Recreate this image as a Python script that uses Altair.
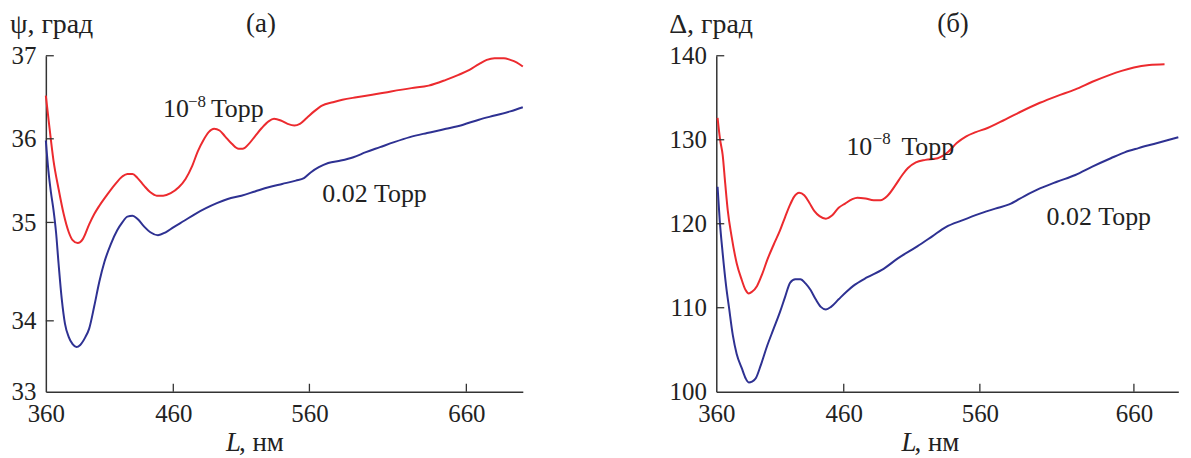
import altair as alt
import pandas as pd

FONT = "Liberation Serif"
RED = "#ec2a2e"
BLUE = "#2e3192"
INK = "#222222"

# ---------------- panel (а): psi, degrees ----------------
psi_vac_L = [360, 362, 366, 370, 374, 378, 381, 385, 389, 394, 398, 402, 408, 414, 420, 424,
             428, 432, 437, 442, 447, 452, 458, 464, 469, 474, 478, 482, 486, 490, 494, 498,
             503, 508, 511, 515, 520, 525, 530, 534, 539, 544, 549, 553, 558, 563, 568, 575,
             581, 590, 600, 612, 625, 636, 647, 655, 662, 668, 673, 678, 684, 688, 692, 696]
psi_vac = [36.52, 36.25, 35.74, 35.40, 35.10, 34.90, 34.82, 34.79, 34.83, 34.98, 35.10, 35.20,
           35.33, 35.45, 35.55, 35.58, 35.58, 35.53, 35.44, 35.36, 35.32, 35.32, 35.35, 35.42,
           35.52, 35.68, 35.85, 35.98, 36.08, 36.12, 36.10, 36.03, 35.94, 35.88, 35.88, 35.93,
           36.03, 36.13, 36.21, 36.24, 36.22, 36.18, 36.16, 36.18, 36.25, 36.33, 36.40, 36.44,
           36.47, 36.50, 36.53, 36.57, 36.61, 36.64, 36.71, 36.77, 36.83, 36.90, 36.95, 36.97,
           36.97, 36.95, 36.92, 36.87]

psi_gas_L = [360, 362, 364, 366, 368, 370, 372.5, 375, 378, 381, 384, 387, 391, 394, 398, 402,
             406, 411, 416, 420, 424, 428, 432, 437, 442, 448, 454, 460, 468, 476, 484, 492,
             500, 510, 520, 530, 540, 550, 556, 561, 566, 572, 580, 588, 596, 605, 614, 624,
             635, 647, 658, 668, 678, 688, 696]
psi_gas = [35.98, 35.62, 35.36, 35.15, 34.90, 34.58, 34.22, 33.96, 33.77, 33.67, 33.63, 33.66,
           33.77, 33.89, 34.15, 34.40, 34.60, 34.78, 34.92, 35.00, 35.07, 35.08, 35.04, 34.96,
           34.90, 34.87, 34.90, 34.95, 35.02, 35.10, 35.17, 35.23, 35.28, 35.32, 35.37, 35.42,
           35.46, 35.50, 35.53, 35.60, 35.66, 35.71, 35.74, 35.78, 35.84, 35.90, 35.96, 36.02,
           36.07, 36.12, 36.17, 36.23, 36.28, 36.33, 36.38]

# ---------------- panel (б): Delta, degrees ----------------
delta_vac_L = [361, 363, 365, 367, 369, 372, 376, 380, 383, 385.5, 388, 392, 396, 400, 405, 410,
               414, 418, 421, 425, 429, 433, 437, 441, 446, 451, 456, 461, 466, 470, 476, 482,
               487, 492, 498, 503, 507, 513, 520, 529, 533, 537, 543, 550, 557, 565, 572, 585,
               599, 610, 622, 633, 644, 652, 660, 670, 680]
delta_vac = [132.6, 130.0, 128.2, 124.8, 121.6, 118.5, 115.3, 113.3, 112.1, 111.7, 111.9, 112.6,
             114.0, 115.7, 117.5, 119.2, 120.8, 122.3, 123.2, 123.7, 123.4, 122.5, 121.5, 120.9,
             120.6, 121.0, 121.9, 122.4, 122.9, 123.1, 123.0, 122.8, 122.8, 123.3, 124.6, 125.8,
             126.6, 127.3, 127.6, 127.8, 128.1, 128.6, 129.6, 130.4, 130.9, 131.4, 132.0, 133.2,
             134.4, 135.2, 136.0, 136.9, 137.7, 138.2, 138.6, 138.9, 139.0]

delta_gas_L = [361, 362.7, 365, 367.7, 370, 373, 376, 380, 383, 385.5, 388, 391, 395, 400, 405,
               410, 414, 418, 422, 426, 430, 434, 438, 442, 446, 450, 456, 462, 467, 477, 488,
               500, 514, 525, 535, 547, 560, 570, 579, 589, 599, 610, 622, 633, 645, 654, 663,
               673, 683, 689]
delta_gas = [124.4, 120.4, 116.5, 112.6, 110.0, 106.7, 104.5, 102.8, 101.6, 101.1, 101.2, 101.6,
             103.2, 105.5, 107.5, 109.5, 111.3, 113.0, 113.4, 113.4, 112.9, 112.1, 111.0, 110.1,
             109.8, 110.1, 111.0, 111.9, 112.6, 113.6, 114.5, 115.9, 117.3, 118.5, 119.6, 120.4,
             121.2, 121.8, 122.3, 123.3, 124.2, 125.0, 125.8, 126.8, 127.8, 128.5, 129.0, 129.5,
             130.0, 130.3]

x_ticks = [360, 460, 560, 660]
psi_ticks = [33, 34, 35, 36, 37]
delta_ticks = [100, 110, 120, 130, 140]

series_names = ["10^-8 Торр", "0.02 Торр"]

# texts
psi_title = "ψ, град"
delta_title = "Δ, град"
panel_a = "(а)"
panel_b = "(б)"
lab_ten = "10"
lab_exp = "−8"
lab_torr = "Торр"
lab_gas = "0.02 Торр"
lab_L = "L"
lab_unit = ", нм"

H = 337.4
W1 = 479
W2 = 464


def frame(L1, v1, L2, v2):
    return pd.DataFrame({
        "L": list(L1) + list(L2),
        "v": list(v1) + list(v2),
        "s": [series_names[0]] * len(L1) + [series_names[1]] * len(L2),
    })


def txt(label, x, y, size=26, align="left", baseline="alphabetic", style="normal"):
    return alt.Chart(pd.DataFrame({"t": [label]})).mark_text(
        font=FONT, fontSize=size, align=align, baseline=baseline, fontStyle=style, color=INK
    ).encode(text="t:N", x=alt.value(x), y=alt.value(y))


def panel(df, xs, ys, yvals, width, texts):
    xaxis = alt.Axis(values=x_ticks, title=None, tickSize=0, labelPadding=10, grid=False,
                     labelFlush=False, labelOverlap=False)
    yaxis = alt.Axis(values=yvals, title=None, tickSize=0, labelPadding=10, grid=False,
                     labelFlush=False, labelOverlap=False)
    lines = alt.Chart(df).mark_line(strokeWidth=2, interpolate="monotone").encode(
        x=alt.X("L:Q", scale=xs, axis=xaxis),
        y=alt.Y("v:Q", scale=ys, axis=yaxis),
        color=alt.Color("s:N", scale=alt.Scale(domain=series_names, range=[RED, BLUE]), legend=None),
    )
    xt = alt.Chart(pd.DataFrame({"L": x_ticks[1:]})).mark_rule(color="#333", strokeWidth=1.3).encode(
        x=alt.X("L:Q", scale=xs, axis=xaxis), y=alt.value(H), y2=alt.value(H - 8)
    )
    yt = alt.Chart(pd.DataFrame({"v": yvals[1:]})).mark_rule(color="#333", strokeWidth=1.3).encode(
        y=alt.Y("v:Q", scale=ys, axis=yaxis), x=alt.value(0), x2=alt.value(8)
    )
    return alt.layer(lines, xt, yt, *texts).properties(width=width, height=H)


xs1 = alt.Scale(domain=[360, 460, 560, 660, 696], range=[0, 128, 264.7, 422.3, W1], nice=False, zero=False)
ys1 = alt.Scale(domain=psi_ticks, range=[H, 266.2, 167.4, 83.4, 0], nice=False, zero=False)
xs2 = alt.Scale(domain=[360, 460, 560, 660, 689], range=[0, 128, 264.7, 419.4, W2], nice=False, zero=False)
ys2 = alt.Scale(domain=[100, 140], nice=False, zero=False)

TOP = -45.3

left = panel(
    frame(psi_vac_L, psi_vac, psi_gas_L, psi_gas), xs1, ys1, psi_ticks, W1,
    [
        txt(psi_title, -36, TOP, size=28, baseline="top"),
        txt(panel_a, 216, TOP, size=27, align="center", baseline="top"),
        txt(lab_ten, 117.6, 62),
        txt(lab_exp, 142.7, 51, size=17),
        txt(lab_torr, 165.8, 62),
        txt(lab_gas, 277.7, 146.4),
        txt(lab_L, 181, 397, size=27, style="italic"),
        txt(lab_unit, 194, 397, size=27),
    ],
)

right = panel(
    frame(delta_vac_L, delta_vac, delta_gas_L, delta_gas), xs2, ys2, delta_ticks, W2,
    [
        txt(delta_title, -47.3, TOP, size=28, baseline="top"),
        txt(panel_b, 237.7, TOP, size=27, align="center", baseline="top"),
        txt(lab_ten, 130.7, 100),
        txt(lab_exp, 157.2, 89, size=17),
        txt(lab_torr, 186, 100),
        txt(lab_gas, 331.7, 169.5),
        txt(lab_L, 186, 397, size=27, style="italic"),
        txt(lab_unit, 199, 397, size=27),
    ],
)

chart = alt.hconcat(left, right, spacing=194.3, bounds="flush").properties(
    padding={"left": 2, "top": 0, "right": 0, "bottom": 0}
).configure_view(stroke=None).configure_axis(
    labelFont=FONT, labelFontSize=25, labelColor=INK,
    domainColor="#333", domainWidth=1.5,
)

chart.save("out.html", embed_options={"renderer": "svg", "actions": False})
